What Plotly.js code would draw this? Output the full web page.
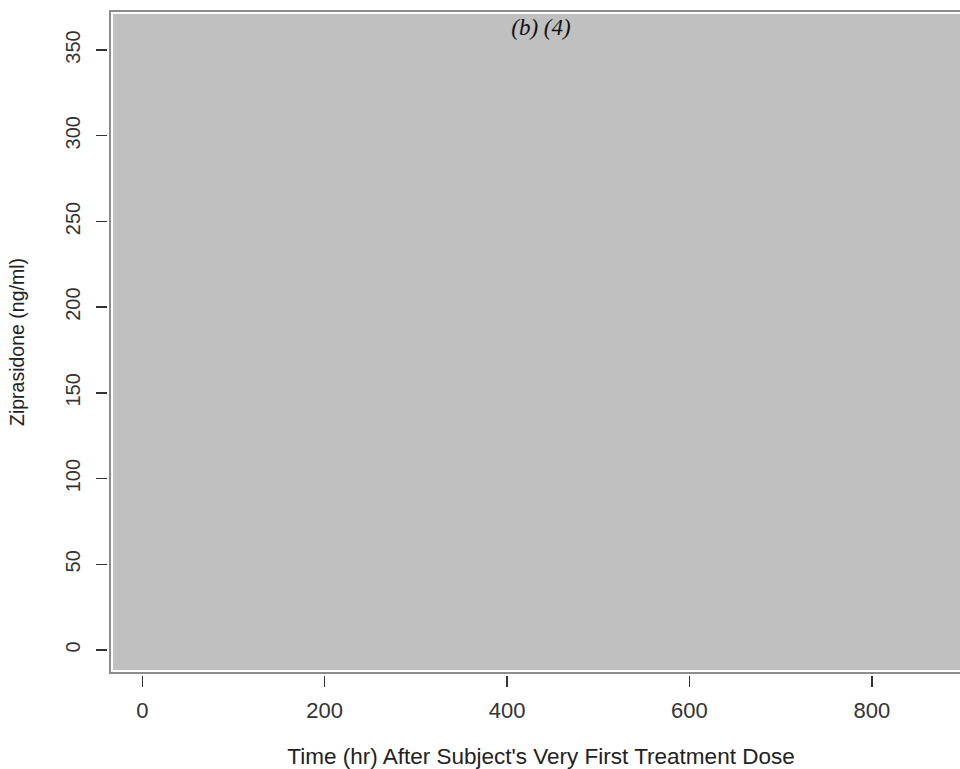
<!DOCTYPE html>
<html>
<head>
<meta charset="utf-8">
<script src="https://cdn.plot.ly/plotly-3.0.1.min.js"></script>
<style>
  html, body { margin: 0; padding: 0; overflow: hidden; background: #ffffff; }
  #chart { width: 980px; height: 769px; }
</style>
</head>
<body>
<div id="chart"></div>
<script>
// Data (the reference panel contains no plotted observations)
const timeHr = [];
const ziprasidone = [];
const xTickValues = [0, 200, 400, 600, 800];
const yTickValues = [0, 50, 100, 150, 200, 250, 300, 350];
const panelTitle = "(b) (4)";
const xTitle = "Time (hr) After Subject's Very First Treatment Dose";
const yTitle = "Ziprasidone (ng/ml)";

const traces = [{
  type: 'scatter',
  mode: 'markers',
  x: timeHr,
  y: ziprasidone,
  marker: { color: '#000000', size: 6 },
  showlegend: false,
  hoverinfo: 'skip'
}];

const tickFontX = { family: 'Liberation Sans, Arial, sans-serif', size: 22, color: '#333333' };
const tickFontY = { family: 'Liberation Sans, Arial, sans-serif', size: 20, color: '#333333' };

const layout = {
  width: 980,
  height: 769,
  margin: { l: 110, r: 8, t: 11, b: 96, pad: 0 },
  paper_bgcolor: '#ffffff',
  plot_bgcolor: '#c0c0c0',
  showlegend: false,
  title: {
    text: '<i>' + panelTitle + '</i>',
    font: { family: 'Liberation Serif, Times New Roman, serif', size: 23, color: '#111111' },
    xref: 'paper', x: 0.5, xanchor: 'center',
    yref: 'container', y: 1 - 27 / 769, yanchor: 'middle'
  },
  xaxis: {
    range: [-35.4, 909.8],
    tickmode: 'array',
    tickvals: xTickValues,
    ticktext: xTickValues.map(String),
    ticks: 'outside',
    ticklen: 13,
    tickwidth: 1.5,
    tickcolor: '#333333',
    tickfont: tickFontX,
    ticklabelstandoff: 5,
    showgrid: false,
    zeroline: false,
    showline: false,
    automargin: false,
    title: {
      text: xTitle,
      font: { family: 'Liberation Sans, Arial, sans-serif', size: 22.5, color: '#222222' },
      standoff: 25
    }
  },
  yaxis: {
    range: [-13.4, 372.75],
    tickmode: 'array',
    tickvals: yTickValues,
    ticktext: yTickValues.map(String),
    tickangle: -90,
    ticks: 'outside',
    ticklen: 13,
    tickwidth: 1.5,
    tickcolor: '#333333',
    tickfont: tickFontY,
    ticklabelstandoff: 8,
    showgrid: false,
    zeroline: false,
    showline: false,
    automargin: false,
    title: {
      text: yTitle,
      font: { family: 'Liberation Sans, Arial, sans-serif', size: 19.5, color: '#222222' },
      standoff: 32
    }
  },
  shapes: [
    { type: 'rect', xref: 'paper', yref: 'paper', x0: 0, x1: 1, y0: 0, y1: 1,
      line: { color: '#ffffff', width: 6 }, fillcolor: 'rgba(0,0,0,0)', layer: 'above' },
    { type: 'rect', xref: 'paper', yref: 'paper', x0: 0, x1: 1, y0: 0, y1: 1,
      line: { color: '#8c8c8c', width: 2 }, fillcolor: 'rgba(0,0,0,0)', layer: 'above' }
  ]
};

Plotly.newPlot('chart', traces, layout, { displayModeBar: false, staticPlot: true });
</script>
</body>
</html>
